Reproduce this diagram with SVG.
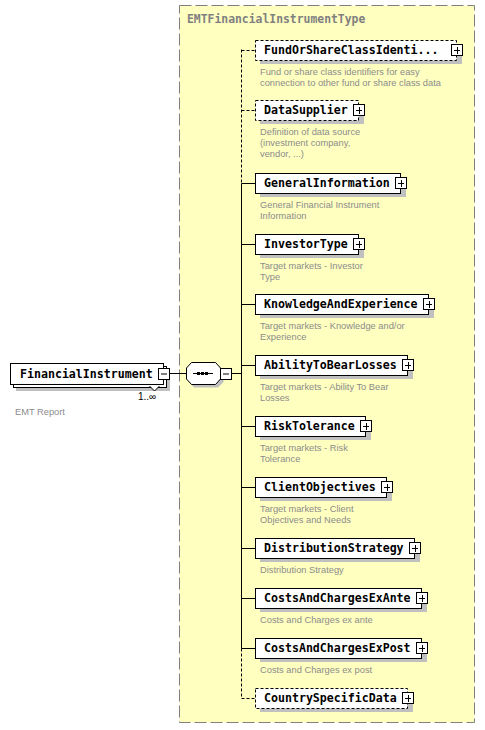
<svg xmlns="http://www.w3.org/2000/svg" width="485" height="730" viewBox="0 0 485 730">
<defs>
<style>
.bg{fill:#ffffff}
.outer{fill:#ffffc0;stroke:#808080;stroke-width:1;stroke-dasharray:12 4}
.title{font-family:"DejaVu Sans Mono","Liberation Mono",monospace;font-weight:bold;font-size:11.4px;fill:#808080}
.shadow{fill:#c0c0c0}
.box{fill:#ffffff;stroke:#000000;stroke-width:1}
.opt{fill:#ffffff;stroke:#000000;stroke-width:1;stroke-dasharray:3 2}
.lbl{font-family:"DejaVu Sans Mono","Liberation Mono",monospace;font-weight:bold;font-size:11.6px;fill:#000000}
.desc{font-family:"Liberation Sans",Arial,sans-serif;font-size:9.3px;fill:#8c8c8c}
.ln{fill:none;stroke:#000000;stroke-width:1}
.dl{fill:none;stroke:#000000;stroke-width:1;stroke-dasharray:3 2}
.pm{fill:#ffffff;stroke:#000000;stroke-width:1}
.small{font-family:"Liberation Sans",Arial,sans-serif;font-size:10px;fill:#000000}
</style>
</defs>
<rect class="bg" x="0" y="0" width="485" height="730"/>
<g id="type-box">
<rect class="outer" x="179.5" y="5.5" width="295" height="717"/>
<text class="title" x="187" y="23">EMTFinancialInstrumentType</text>
</g>
<g id="connectors">
<line class="ln" x1="169.5" y1="373.5" x2="186.5" y2="373.5"/>
<line class="ln" x1="231.5" y1="373.5" x2="241.5" y2="373.5"/>
<line class="dl" x1="241.5" y1="49.5" x2="241.5" y2="183.5"/>
<line class="ln" x1="241.5" y1="183.5" x2="241.5" y2="648.5"/>
<line class="dl" x1="241.5" y1="648.5" x2="241.5" y2="698.5"/>
<line class="dl" x1="241.5" y1="50.5" x2="256" y2="50.5"/>
<line class="dl" x1="241.5" y1="110.5" x2="256" y2="110.5"/>
<line class="ln" x1="241.5" y1="183.5" x2="256" y2="183.5"/>
<line class="ln" x1="241.5" y1="244.5" x2="256" y2="244.5"/>
<line class="ln" x1="241.5" y1="304.5" x2="256" y2="304.5"/>
<line class="ln" x1="241.5" y1="365.5" x2="256" y2="365.5"/>
<line class="ln" x1="241.5" y1="426.5" x2="256" y2="426.5"/>
<line class="ln" x1="241.5" y1="487.5" x2="256" y2="487.5"/>
<line class="ln" x1="241.5" y1="548.5" x2="256" y2="548.5"/>
<line class="ln" x1="241.5" y1="598.5" x2="256" y2="598.5"/>
<line class="ln" x1="241.5" y1="648.5" x2="256" y2="648.5"/>
<line class="dl" x1="241.5" y1="698.5" x2="256" y2="698.5"/>
</g>
<g id="FinancialInstrument">
<rect class="shadow" x="16" y="369" width="154" height="22"/>
<rect class="box" x="13.5" y="366.5" width="153" height="21"/>
<rect class="box" x="10.5" y="363.5" width="153" height="21"/>
<text class="lbl" x="20" y="378">FinancialInstrument</text>
<rect class="pm" x="158.5" y="368.5" width="11" height="11"/>
<line class="ln" x1="161" y1="374" x2="167" y2="374"/>
<polyline points="149.5,386 154.5,391 159.5,386" fill="#ffffff" stroke="#000000" stroke-width="1"/>
<text class="small" x="138" y="400">1..∞</text>
<text class="desc" x="15" y="415">EMT Report</text>
</g>
<g id="sequence">
<polygon class="shadow" points="194,365 218,365 223.5,371 223.5,382 218,387.5 194,387.5 189.5,382 189.5,371"/>
<polygon class="box" points="191.5,362.5 215.5,362.5 220.5,368 220.5,379 215.5,384.5 191.5,384.5 186.5,379 186.5,368"/>
<line class="ln" x1="193" y1="373.5" x2="213" y2="373.5"/>
<rect x="197" y="372" width="3" height="3" fill="#000"/>
<rect x="201" y="372" width="3" height="3" fill="#000"/>
<rect x="205" y="372" width="3" height="3" fill="#000"/>
<rect class="pm" x="220.5" y="368.5" width="11" height="11"/>
<line class="ln" x1="223" y1="374" x2="229" y2="374"/>
</g>
<g id="FundOrShareClassIdentifiers">
<rect class="shadow" x="260" y="44" width="202" height="20"/>
<rect class="opt" x="255.5" y="40.5" width="201" height="20"/>
<text class="lbl" x="264" y="54">FundOrShareClassIdenti...</text>
<rect class="pm" x="451.5" y="44.5" width="11" height="11"/>
<path class="ln" d="M454 50.5H460M457.5 47V54"/>
<text class="desc" x="260" y="75">Fund or share class identifiers for easy</text>
<text class="desc" x="260" y="86">connection to other fund or share class data</text>
</g>
<g id="DataSupplier">
<rect class="shadow" x="260" y="104" width="104" height="20"/>
<rect class="opt" x="255.5" y="100.5" width="103" height="20"/>
<text class="lbl" x="264" y="114">DataSupplier</text>
<rect class="pm" x="353.5" y="104.5" width="11" height="11"/>
<path class="ln" d="M356 110.5H362M359.5 107V114"/>
<text class="desc" x="260" y="135">Definition of data source</text>
<text class="desc" x="260" y="146">(investment company,</text>
<text class="desc" x="260" y="157">vendor, ...)</text>
</g>
<g id="GeneralInformation">
<rect class="shadow" x="260" y="177" width="146" height="20"/>
<rect class="box" x="255.5" y="173.5" width="145" height="20"/>
<text class="lbl" x="264" y="187">GeneralInformation</text>
<rect class="pm" x="395.5" y="177.5" width="11" height="11"/>
<path class="ln" d="M398 183.5H404M401.5 180V187"/>
<text class="desc" x="260" y="208">General Financial Instrument</text>
<text class="desc" x="260" y="219">Information</text>
</g>
<g id="InvestorType">
<rect class="shadow" x="260" y="238" width="104" height="20"/>
<rect class="box" x="255.5" y="234.5" width="103" height="20"/>
<text class="lbl" x="264" y="248">InvestorType</text>
<rect class="pm" x="353.5" y="238.5" width="11" height="11"/>
<path class="ln" d="M356 244.5H362M359.5 241V248"/>
<text class="desc" x="260" y="269">Target markets - Investor</text>
<text class="desc" x="260" y="280">Type</text>
</g>
<g id="KnowledgeAndExperience">
<rect class="shadow" x="260" y="298" width="174" height="20"/>
<rect class="box" x="255.5" y="294.5" width="173" height="20"/>
<text class="lbl" x="264" y="308">KnowledgeAndExperience</text>
<rect class="pm" x="423.5" y="298.5" width="11" height="11"/>
<path class="ln" d="M426 304.5H432M429.5 301V308"/>
<text class="desc" x="260" y="329">Target markets - Knowledge and/or</text>
<text class="desc" x="260" y="340">Experience</text>
</g>
<g id="AbilityToBearLosses">
<rect class="shadow" x="260" y="359" width="153" height="20"/>
<rect class="box" x="255.5" y="355.5" width="152" height="20"/>
<text class="lbl" x="264" y="369">AbilityToBearLosses</text>
<rect class="pm" x="402.5" y="359.5" width="11" height="11"/>
<path class="ln" d="M405 365.5H411M408.5 362V369"/>
<text class="desc" x="260" y="390">Target markets - Ability To Bear</text>
<text class="desc" x="260" y="401">Losses</text>
</g>
<g id="RiskTolerance">
<rect class="shadow" x="260" y="420" width="111" height="20"/>
<rect class="box" x="255.5" y="416.5" width="110" height="20"/>
<text class="lbl" x="264" y="430">RiskTolerance</text>
<rect class="pm" x="360.5" y="420.5" width="11" height="11"/>
<path class="ln" d="M363 426.5H369M366.5 423V430"/>
<text class="desc" x="260" y="451">Target markets - Risk</text>
<text class="desc" x="260" y="462">Tolerance</text>
</g>
<g id="ClientObjectives">
<rect class="shadow" x="260" y="481" width="132" height="20"/>
<rect class="box" x="255.5" y="477.5" width="131" height="20"/>
<text class="lbl" x="264" y="491">ClientObjectives</text>
<rect class="pm" x="381.5" y="481.5" width="11" height="11"/>
<path class="ln" d="M384 487.5H390M387.5 484V491"/>
<text class="desc" x="260" y="512">Target markets - Client</text>
<text class="desc" x="260" y="523">Objectives and Needs</text>
</g>
<g id="DistributionStrategy">
<rect class="shadow" x="260" y="542" width="160" height="20"/>
<rect class="box" x="255.5" y="538.5" width="159" height="20"/>
<text class="lbl" x="264" y="552">DistributionStrategy</text>
<rect class="pm" x="409.5" y="542.5" width="11" height="11"/>
<path class="ln" d="M412 548.5H418M415.5 545V552"/>
<text class="desc" x="260" y="573">Distribution Strategy</text>
</g>
<g id="CostsAndChargesExAnte">
<rect class="shadow" x="260" y="592" width="167" height="20"/>
<rect class="box" x="255.5" y="588.5" width="166" height="20"/>
<text class="lbl" x="264" y="602">CostsAndChargesExAnte</text>
<rect class="pm" x="416.5" y="592.5" width="11" height="11"/>
<path class="ln" d="M419 598.5H425M422.5 595V602"/>
<text class="desc" x="260" y="623">Costs and Charges ex ante</text>
</g>
<g id="CostsAndChargesExPost">
<rect class="shadow" x="260" y="642" width="167" height="20"/>
<rect class="box" x="255.5" y="638.5" width="166" height="20"/>
<text class="lbl" x="264" y="652">CostsAndChargesExPost</text>
<rect class="pm" x="416.5" y="642.5" width="11" height="11"/>
<path class="ln" d="M419 648.5H425M422.5 645V652"/>
<text class="desc" x="260" y="673">Costs and Charges ex post</text>
</g>
<g id="CountrySpecificData">
<rect class="shadow" x="260" y="692" width="153" height="20"/>
<rect class="opt" x="255.5" y="688.5" width="152" height="20"/>
<text class="lbl" x="264" y="702">CountrySpecificData</text>
<rect class="pm" x="402.5" y="692.5" width="11" height="11"/>
<path class="ln" d="M405 698.5H411M408.5 695V702"/>
</g>
</svg>
